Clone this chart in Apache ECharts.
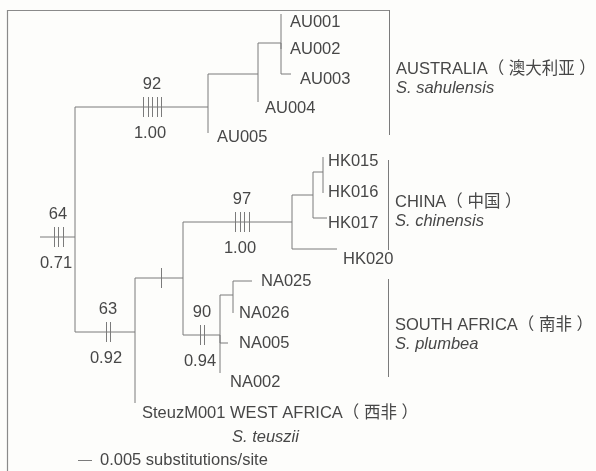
<!DOCTYPE html>
<html>
<head>
<meta charset="utf-8">
<script src="https://cdn.jsdelivr.net/npm/echarts@6/dist/echarts.min.js"></script>
<style>html,body{margin:0;padding:0;background:#fdfdfb;}#c{width:596px;height:471px;}</style>
</head>
<body>
<div id="c"></div>
<script>
// ---- tree data (x: cumulative branch depth, y: vertical position in tree units) ----
const nodeNames  = ['stem','R','A','A1','A2','AU001','AU002','AU003','AU004','AU005','B','C','D','D1','D2','HK015','HK016','HK017','HK020','E','E1','NA025','NA026','NA005','NA002','SteuzM001'];
const nodeParent = [null,'stem','R','A','A1','A2','A2','A2','A1','A','R','B','C','D','D1','D2','D2','D1','D','C','E','E1','E1','E','E','B'];
const nodeX      = [40, 75, 208, 258, 281, 281, 281, 291, 258, 208, 135, 183, 292, 313, 323, 323, 323, 327, 337, 220, 233, 252, 233, 228, 220, 135];
const nodeY      = [237, 237, 107, 74, 43, 14, 49, 74, 102, 133, 332, 278, 222, 195, 172, 157, 193, 218, 249, 335, 295, 281, 313, 343, 373, 403];
const leafText   = {SteuzM001: 'SteuzM001 WEST AFRICA（ 西非 ）'};

// support values on branches
const supportNode = ['stem', 'A', 'B', 'C', 'D', 'E'];
const bootstrap   = ['64', '92', '63', '', '97', '90'];
const posterior   = ['0.71', '1.00', '0.92', '', '1.00', '0.94'];
const changes     = [3, 5, 2, 1, 4, 2];
const changeAt    = [58, 152, 108, 161, 242, 202];

// clades
const cladeNames   = ['AUSTRALIA（ 澳大利亚 ）', 'CHINA（ 中国 ）', 'SOUTH AFRICA（ 南非 ）'];
const cladeSpecies = ['S. sahulensis', 'S. chinensis', 'S. plumbea'];
const cladeTop     = [10, 160, 279];
const cladeBottom  = [135, 250, 377];

const westSpecies = 'S. teuszii';
const scaleLabel = '0.005 substitutions/site';
const scaleLength = 14;

// ---- styles ----
const LINE = '#7b7b7b';
const TXT = '#474747';
const FONT = '16.5px "Liberation Sans", Arial, "Noto Sans CJK SC", sans-serif';
const IFONT = 'italic 16.5px "Liberation Sans", Arial, "Noto Sans CJK SC", sans-serif';
const labelOffset = {
  AU001:[9,8], AU002:[9,0], AU003:[9,5], AU004:[7,6], AU005:[9,4],
  HK015:[5,4], HK016:[5,-1], HK017:[1,5], HK020:[6,10],
  NA025:[9,0], NA026:[6,0], NA005:[11,0], NA002:[10,9], SteuzM001:[7,10]
};
const cladeBarX = [389, 388, 388];

const idx = {};
nodeNames.forEach((n, i) => idx[n] = i);
const isLeaf = nodeNames.map(n => !nodeParent.includes(n));

// edges
const edgeData = [];
nodeNames.forEach((n, i) => {
  const p = nodeParent[i];
  if (p === null) return;
  const j = idx[p];
  edgeData.push([nodeX[j], nodeY[j], nodeX[j], nodeY[i], nodeX[i], nodeY[i]]);
});
// leaf labels
const leafData = [];
nodeNames.forEach((n, i) => {
  if (!isLeaf[i]) return;
  leafData.push([nodeX[i], nodeY[i], leafText[n] || n, n]);
});

const chart = echarts.init(document.getElementById('c'), null, {renderer: 'canvas'});

function edgeRender(params, api) {
  const pts = [];
  for (let k = 0; k < 3; k++) pts.push(api.coord([api.value(2*k), api.value(2*k+1)]));
  return {type: 'polyline', shape: {points: pts}, style: {stroke: LINE, lineWidth: 1, fill: null}};
}

function leafRender(params, api) {
  const d = leafData[params.dataIndex];
  const p = api.coord([d[0], d[1]]);
  const off = labelOffset[d[3]] || [6, 0];
  return {type: 'text', style: {x: p[0] + off[0], y: p[1] + off[1], text: d[2], font: FONT, fill: TXT, textAlign: 'left', textVerticalAlign: 'middle'}};
}

function supportRender(params, api) {
  const i = params.dataIndex;
  const n = idx[supportNode[i]];
  const child = supportNode[i] === 'stem' ? idx['R'] : n;
  const y = nodeY[child];
  const c = api.coord([changeAt[i], y]);
  const children = [];
  const gap = 4.5;
  const k = changes[i];
  for (let m = 0; m < k; m++) {
    const x = Math.round(c[0] + (m - (k - 1) / 2) * gap) + 0.5;
    children.push({type: 'line', shape: {x1: x, y1: c[1] - 10, x2: x, y2: c[1] + 10}, style: {stroke: LINE, lineWidth: 1}});
  }
  if (bootstrap[i]) children.push({type: 'text', style: {x: c[0], y: c[1] - 23, text: bootstrap[i], font: FONT, fill: TXT, textAlign: 'center', textVerticalAlign: 'middle'}});
  if (posterior[i]) children.push({type: 'text', style: {x: c[0] - 2, y: c[1] + 26, text: posterior[i], font: FONT, fill: TXT, textAlign: 'center', textVerticalAlign: 'middle'}});
  return {type: 'group', children};
}

function cladeRender(params, api) {
  const i = params.dataIndex;
  const t = api.coord([cladeBarX[i], cladeTop[i]]);
  const b = api.coord([cladeBarX[i], cladeBottom[i]]);
  const mid = (t[1] + b[1]) / 2;
  const x = Math.round(t[0]) + 0.5;
  return {type: 'group', children: [
    {type: 'line', shape: {x1: x, y1: t[1], x2: x, y2: b[1]}, style: {stroke: LINE, lineWidth: 1}},
    {type: 'text', style: {x: t[0] + 7, y: mid - 3, text: cladeNames[i], font: FONT, fill: TXT, textAlign: 'left', textVerticalAlign: 'middle'}},
    {type: 'text', style: {x: t[0] + 7, y: mid + 16, text: cladeSpecies[i], font: IFONT, fill: TXT, textAlign: 'left', textVerticalAlign: 'middle'}}
  ]};
}

function extraRender(params, api) {
  const w = api.coord([232, 437]);
  const s1 = api.coord([78, 460]);
  const s2 = api.coord([78 + scaleLength, 460]);
  const f1 = api.coord([7, 10]);
  const f2 = api.coord([389, 10]);
  const f3 = api.coord([7, 471]);
  return {type: 'group', children: [
    {type: 'polyline', shape: {points: [[f3[0] + 0.5, f3[1]], [f1[0] + 0.5, f1[1] + 0.5], [f2[0], f2[1] + 0.5]]}, style: {stroke: '#8a8a8a', lineWidth: 1.2, fill: null}},
    {type: 'text', style: {x: w[0], y: w[1], text: westSpecies, font: IFONT, fill: TXT, textAlign: 'left', textVerticalAlign: 'middle'}},
    {type: 'line', shape: {x1: s1[0], y1: s1[1] + 0.5, x2: s2[0], y2: s2[1] + 0.5}, style: {stroke: LINE, lineWidth: 1}},
    {type: 'text', style: {x: s2[0] + 8, y: s2[1], text: scaleLabel, font: FONT, fill: TXT, textAlign: 'left', textVerticalAlign: 'middle'}}
  ]};
}

chart.setOption({
  backgroundColor: '#fdfdfb',
  animation: false,
  grid: {left: 0, right: 0, top: 0, bottom: 0},
  xAxis: {type: 'value', min: 0, max: 596, show: false},
  yAxis: {type: 'value', min: 0, max: 471, inverse: true, show: false},
  series: [
    {type: 'custom', renderItem: extraRender, data: [[0, 0]], silent: true},
    {type: 'custom', renderItem: edgeRender, data: edgeData, silent: true},
    {type: 'custom', renderItem: supportRender, data: supportNode.map((n, i) => [changeAt[i], i]), silent: true},
    {type: 'custom', renderItem: leafRender, data: leafData.map(d => [d[0], d[1]]), silent: true},
    {type: 'custom', renderItem: cladeRender, data: cladeNames.map((n, i) => [cladeBarX[i], cladeTop[i]]), silent: true}
  ]
});
</script>
</body>
</html>
